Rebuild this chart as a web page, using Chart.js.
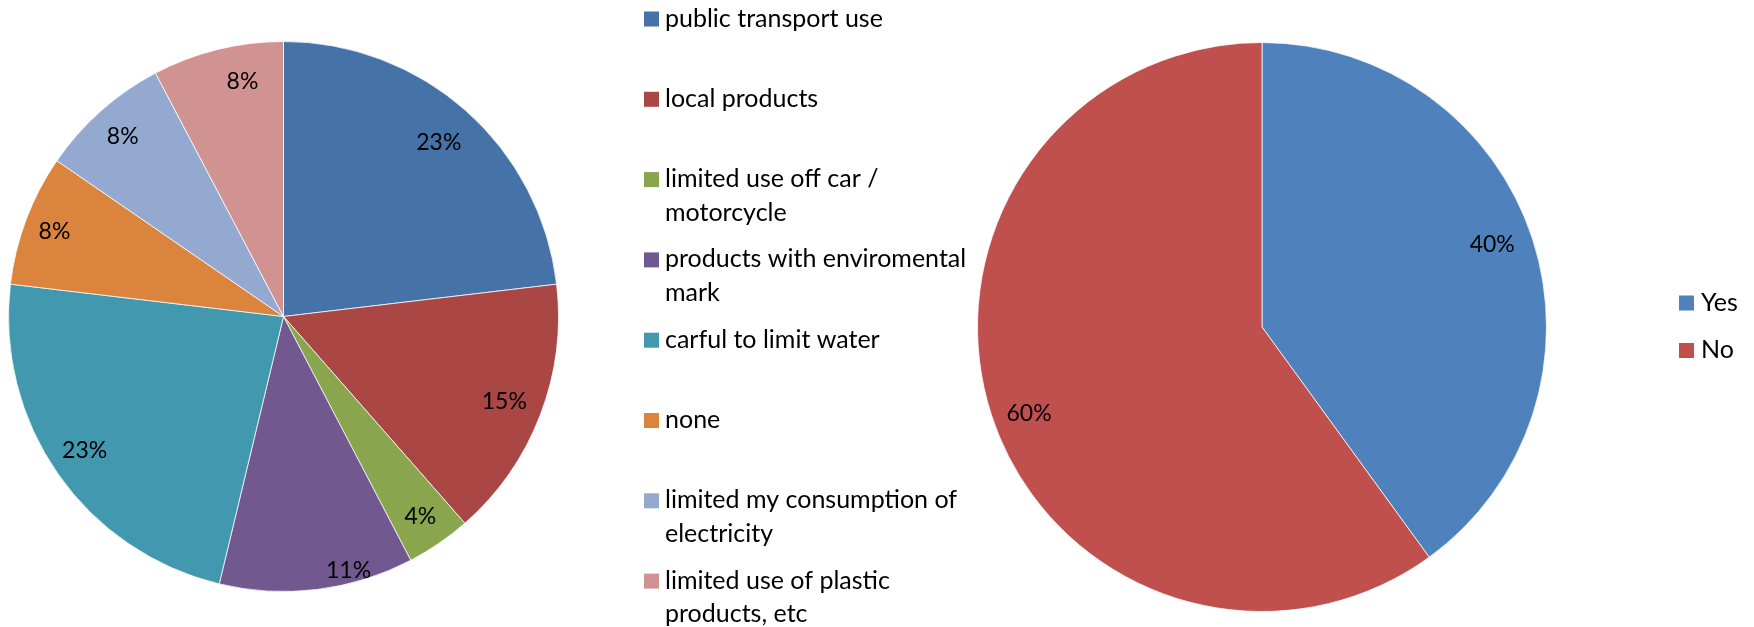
<!DOCTYPE html>
<html>
<head>
<meta charset="utf-8">
<script src="https://cdn.jsdelivr.net/npm/chart.js@4.4.1/dist/chart.umd.min.js"></script>
<style>
html, body { margin: 0; padding: 0; background: #fff; width: 1754px; height: 627px; overflow: hidden; }
#wrap { position: relative; width: 1754px; height: 627px; }
canvas { position: absolute; top: 0; }
#c1 { left: 0; }
#c2 { left: 970px; }
</style>
</head>
<body>
<div id="wrap">
  <canvas id="c1" width="980" height="627"></canvas>
  <canvas id="c2" width="784" height="627"></canvas>
</div>
<script>
// ---- data ----
const categories = [
  "public transport use",
  "local products",
  ["limited use off car /", "motorcycle"],
  ["products with enviromental", "mark"],
  "carful to limit water",
  "none",
  ["limited my consumption of", "electricity"],
  ["limited use of plastic", "products, etc"]
];
const shares = [23.1, 15.4, 3.8, 11.4, 23.1, 7.7, 7.7, 7.7];
const answers = ["Yes", "No"];
const answerShares = [40, 60];

// ---- styles ----
const palette1 = ["#4572A7", "#AA4643", "#89A54E", "#71588F", "#4198AF", "#DB843D", "#93A9CF", "#D19392"];
const palette2 = ["#4F81BD", "#C0504D"];
const FONT = 'Lato, "Open Sans", sans-serif';

const sliceLabels = {
  id: 'sliceLabels',
  afterDatasetsDraw(chart, args, opts) {
    const ctx = chart.ctx;
    const ds = chart.data.datasets[0];
    const meta = chart.getDatasetMeta(0);
    const total = ds.data.reduce((a, b) => a + b, 0);
    ctx.save();
    ctx.font = opts.size + 'px ' + FONT;
    ctx.fillStyle = '#000';
    ctx.textAlign = 'center';
    ctx.textBaseline = 'alphabetic';
    meta.data.forEach((arc, i) => {
      const p = arc.getProps(['x', 'y', 'startAngle', 'endAngle', 'outerRadius'], true);
      const mid = (p.startAngle + p.endAngle) / 2 + (opts.shift[i] || 0) * Math.PI / 180;
      const f = opts.radius[i];
      const lx = p.x + Math.cos(mid) * p.outerRadius * f;
      const ly = p.y + Math.sin(mid) * p.outerRadius * f;
      ctx.fillText(Math.round(ds.data[i] / total * 100) + '%', lx, ly + opts.size * 0.36);
    });
    ctx.restore();
  }
};

const sideLegend = {
  id: 'sideLegend',
  afterDraw(chart, args, o) {
    const ctx = chart.ctx;
    const ds = chart.data.datasets[0];
    ctx.save();
    ctx.font = o.size + 'px ' + FONT;
    ctx.textAlign = 'left';
    ctx.textBaseline = 'alphabetic';
    chart.data.labels.forEach((lab, i) => {
      const base = o.y + i * o.step;
      ctx.fillStyle = ds.backgroundColor[i];
      ctx.fillRect(o.x, base - o.box, o.box, o.box);
      ctx.fillStyle = '#000';
      const lines = Array.isArray(lab) ? lab : [lab];
      lines.forEach((t, j) => ctx.fillText(t, o.x + o.gap, base + j * o.lineHeight));
    });
    ctx.restore();
  }
};

function pieConfig(labels, values, colors, padding, labelOpts, legendOpts) {
  return {
    type: 'pie',
    data: {
      labels: labels,
      datasets: [{
        data: values,
        backgroundColor: colors,
        borderColor: 'rgba(255,255,255,0.75)',
        borderWidth: 1,
        hoverBorderWidth: 1,
        hoverOffset: 0,
        offset: 0
      }]
    },
    options: {
      responsive: false,
      animation: false,
      devicePixelRatio: 1,
      events: [],
      layout: { padding: padding },
      plugins: {
        legend: { display: false },
        tooltip: { enabled: false },
        sliceLabels: labelOpts,
        sideLegend: legendOpts
      }
    },
    plugins: [sliceLabels, sideLegend]
  };
}

function build() {
  new Chart(document.getElementById('c1'), pieConfig(
    categories, shares, palette1,
    { left: 8, top: 41, right: 421, bottom: 35 },
    { size: 23,
      radius: [0.85, 0.86, 0.88, 0.95, 0.87, 0.89, 0.88, 0.87],
      shift:  [0, 0, 0, -7.4, 1.1, 0, 0, 4] },
    { x: 644, y: 26.5, step: 80.3, lineHeight: 33.4, box: 15, gap: 21, size: 25 }
  ));
  new Chart(document.getElementById('c2'), pieConfig(
    answers, answerShares, palette2,
    { left: 7, top: 42, right: 207, bottom: 15 },
    { size: 23, radius: [0.86, 0.873], shift: [-1.8, -2.3] },
    { x: 709, y: 310.5, step: 47.5, lineHeight: 33.4, box: 15, gap: 22, size: 25 }
  ));
}

if (document.fonts && document.fonts.load) {
  Promise.all([document.fonts.load('25px Lato'), document.fonts.load('23px Lato')])
    .then(build, build);
} else {
  build();
}
</script>
</body>
</html>
